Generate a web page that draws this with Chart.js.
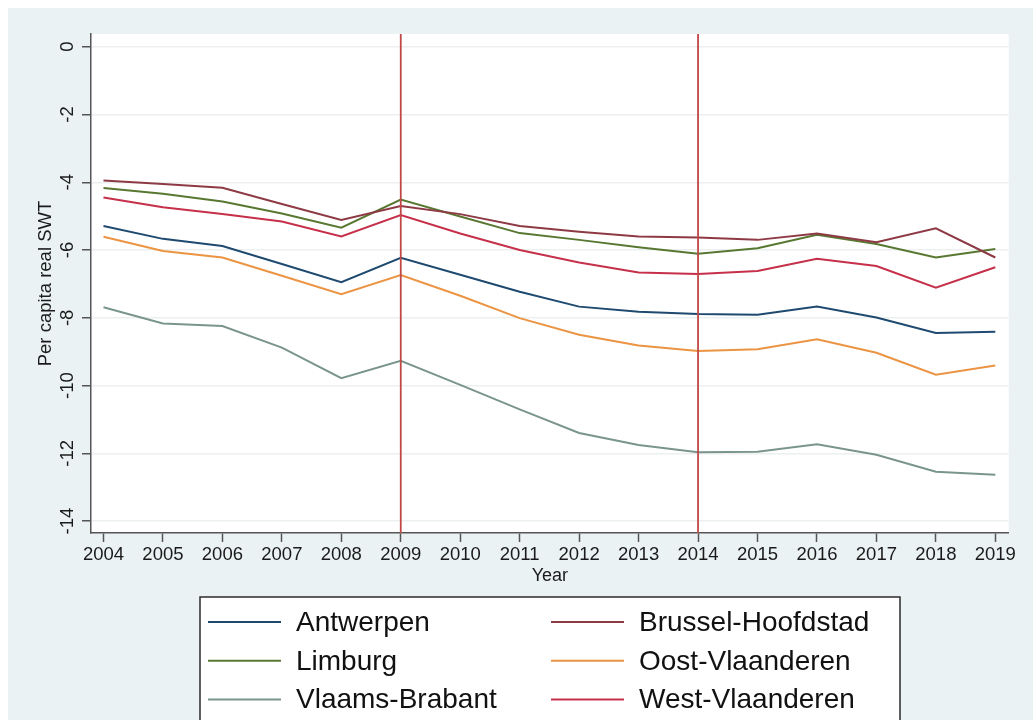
<!DOCTYPE html>
<html>
<head>
<meta charset="utf-8">
<title>Per capita real SWT</title>
<script src="https://cdn.jsdelivr.net/npm/chart.js@4.4.0/dist/chart.umd.min.js"></script>
<style>
  html, body { margin: 0; padding: 0; background: #ffffff; }
  #wrap { position: absolute; left: 8px; top: 8px; width: 1025px; height: 712px; background: #eaf2f3; }
</style>
</head>
<body>
<div id="wrap"><canvas id="swt" width="1025" height="712"></canvas></div>
<script>
const years = [2004, 2005, 2006, 2007, 2008, 2009, 2010, 2011, 2012, 2013, 2014, 2015, 2016, 2017, 2018, 2019];

const antwerpen   = [-5.29, -5.67, -5.88, -6.41, -6.95, -6.23, -6.73, -7.23, -7.67, -7.82, -7.89, -7.91, -7.67, -7.99, -8.45, -8.41];
const brussel     = [-3.95, -4.05, -4.16, -4.64, -5.11, -4.70, -4.94, -5.29, -5.46, -5.60, -5.63, -5.70, -5.51, -5.77, -5.36, -6.22];
const limburg     = [-4.17, -4.34, -4.57, -4.92, -5.34, -4.51, -5.01, -5.50, -5.70, -5.92, -6.11, -5.95, -5.55, -5.82, -6.22, -5.97];
const oostVl      = [-5.61, -6.03, -6.22, -6.76, -7.30, -6.74, -7.35, -8.01, -8.50, -8.82, -8.98, -8.93, -8.63, -9.03, -9.68, -9.41];
const vlaamsBr    = [-7.69, -8.17, -8.24, -8.88, -9.78, -9.27, -9.98, -10.70, -11.40, -11.75, -11.97, -11.95, -11.73, -12.04, -12.54, -12.63];
const westVl      = [-4.45, -4.74, -4.94, -5.16, -5.60, -4.97, -5.51, -6.00, -6.37, -6.66, -6.71, -6.62, -6.26, -6.47, -7.11, -6.51];

const provinces = ['Antwerpen', 'Brussel-Hoofdstad', 'Limburg', 'Oost-Vlaanderen', 'Vlaams-Brabant', 'West-Vlaanderen'];
const seriesValues = [antwerpen, brussel, limburg, oostVl, vlaamsBr, westVl];
const lineColors = ['#1f4a70', '#8e3a45', '#587832', '#eb9443', '#7a958c', '#c6304a'];

// reference years marked with vertical lines
const breakYears = [2009, 2014];

const FONT = '"Liberation Sans", Arial, Helvetica, sans-serif';

const datasets = provinces.map((name, i) => ({
  label: name,
  data: years.map((yr, j) => ({ x: yr, y: seriesValues[i][j] })),
  borderColor: lineColors[i],
  backgroundColor: lineColors[i],
  borderWidth: 2,
  pointRadius: 0,
  tension: 0,
  fill: false
}));

// white plot region on top of the tinted graph region
const plotBackdrop = {
  id: 'plotBackdrop',
  beforeDraw(chart) {
    const { ctx, chartArea: a } = chart;
    ctx.save();
    ctx.fillStyle = '#ffffff';
    ctx.fillRect(a.left, a.top, a.right - a.left, a.bottom - a.top);
    ctx.restore();
  }
};

// vertical lines at the break years
const breakLines = {
  id: 'breakLines',
  afterDatasetsDraw(chart) {
    const { ctx, chartArea: a } = chart;
    const xs = chart.scales.x;
    ctx.save();
    ctx.strokeStyle = '#c24848';
    ctx.lineWidth = 1.8;
    breakYears.forEach(yr => {
      const px = xs.getPixelForValue(yr);
      ctx.beginPath();
      ctx.moveTo(px, a.top);
      ctx.lineTo(px, a.bottom);
      ctx.stroke();
    });
    ctx.restore();
  }
};

// upright y tick labels, like Stata's default
const yTickLabels = {
  id: 'yTickLabels',
  afterDraw(chart) {
    const { ctx } = chart;
    const ys = chart.scales.y;
    ctx.save();
    ctx.font = '18.5px ' + FONT;
    ctx.fillStyle = '#1a1a1a';
    ctx.textAlign = 'center';
    ctx.textBaseline = 'middle';
    ys.ticks.forEach(t => {
      const py = ys.getPixelForValue(t.value);
      ctx.save();
      ctx.translate(ys.right - 23, py);
      ctx.rotate(-Math.PI / 2);
      ctx.fillText(String(t.value), 0, 0);
      ctx.restore();
    });
    ctx.restore();
  }
};

// two-column boxed legend under the axis
const boxLegend = {
  id: 'boxLegend',
  afterDraw(chart) {
    const { ctx } = chart;
    const left = 192, top = 589, right = 892;
    ctx.save();
    ctx.fillStyle = '#ffffff';
    ctx.fillRect(left, top, right - left, chart.height - top + 4);
    ctx.strokeStyle = '#2b2b2b';
    ctx.lineWidth = 1.5;
    ctx.strokeRect(left, top, right - left, chart.height - top + 4);
    ctx.font = '28px ' + FONT;
    ctx.textAlign = 'left';
    ctx.textBaseline = 'middle';
    chart.data.datasets.forEach((ds, i) => {
      const row = Math.floor(i / 2), col = i % 2;
      const cy = 614 + row * 38.8;
      const lx = col === 0 ? 200 : 543;
      ctx.strokeStyle = ds.borderColor;
      ctx.lineWidth = 2;
      ctx.beginPath();
      ctx.moveTo(lx, cy);
      ctx.lineTo(lx + 73, cy);
      ctx.stroke();
      ctx.fillStyle = '#111111';
      ctx.fillText(ds.label, lx + 88, cy + 1);
    });
    ctx.restore();
  }
};

new Chart(document.getElementById('swt'), {
  type: 'line',
  data: { datasets },
  plugins: [plotBackdrop, breakLines, yTickLabels, boxLegend],
  options: {
    responsive: false,
    animation: false,
    layout: { padding: { left: 0, top: 26, right: 24.3, bottom: 127 } },
    plugins: {
      legend: { display: false },
      tooltip: { enabled: false }
    },
    scales: {
      x: {
        type: 'linear',
        min: 2003.79,
        max: 2019.225,
        afterFit(scale) { scale.height = 60; },
        ticks: {
          stepSize: 1,
          includeBounds: false,
          autoSkip: false,
          maxRotation: 0,
          padding: 2,
          color: '#1a1a1a',
          font: { family: FONT, size: 18.5 },
          callback: v => String(v)
        },
        grid: { drawOnChartArea: false, drawTicks: true, tickLength: 9, tickColor: '#555555', tickWidth: 1.5 },
        border: { color: '#555555', width: 1.5 },
        title: {
          display: true,
          text: 'Year',
          color: '#1a1a1a',
          font: { family: FONT, size: 18 },
          padding: { top: 0, bottom: 6 }
        }
      },
      y: {
        min: -14.35,
        max: 0.375,
        afterFit(scale) { scale.width = 83; },
        ticks: { stepSize: 2, includeBounds: false, display: false },
        grid: { color: '#ecf0f0', lineWidth: 1.5, drawTicks: true, tickLength: 9, tickColor: '#555555', tickWidth: 1.5 },
        border: { color: '#555555', width: 1.5 },
        title: {
          display: true,
          text: 'Per capita real SWT',
          color: '#1a1a1a',
          font: { family: FONT, size: 18.5 },
          padding: { top: 27, bottom: 0 }
        }
      }
    }
  }
});
</script>
</body>
</html>
